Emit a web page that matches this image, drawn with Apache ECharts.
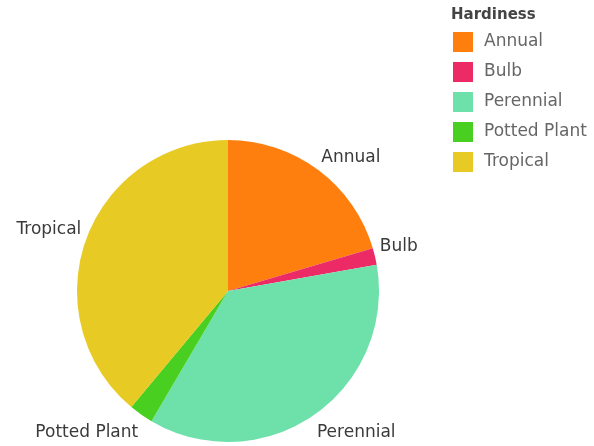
<!DOCTYPE html>
<html>
<head>
<meta charset="utf-8">
<script src="https://cdn.jsdelivr.net/npm/echarts@6/dist/echarts.min.js"></script>
<style>
  html, body { margin: 0; padding: 0; background: #fff; }
  #chart { width: 594px; height: 446px; }
</style>
</head>
<body>
<div id="chart"></div>
<script>
// Share of plants by hardiness type
const categories = ['Annual', 'Bulb', 'Perennial', 'Potted Plant', 'Tropical'];
const values = [20.4, 1.8, 36.2, 2.6, 38.9];
const colors = ['#FF7F0E', '#EC2B66', '#6EE0A9', '#48CF20', '#E8CA24'];
const legendTitle = 'Hardiness';

const FONT = '"DejaVu Sans", Verdana, sans-serif';
const PIE_CENTER = [228, 291];

const chart = echarts.init(document.getElementById('chart'), null, { renderer: 'canvas' });

chart.setOption({
  animation: false,
  backgroundColor: '#ffffff',
  color: colors,
  title: {
    text: legendTitle,
    left: 451,
    top: 8,
    padding: 0,
    textStyle: { fontFamily: FONT, fontSize: 15, fontWeight: 'bold', color: '#444' }
  },
  legend: {
    orient: 'vertical',
    left: 453,
    top: 32,
    padding: 0,
    icon: 'rect',
    itemWidth: 20,
    itemHeight: 20,
    itemGap: 10,
    data: categories,
    textStyle: { fontFamily: FONT, fontSize: 17, color: '#666', padding: [0, 0, 0, 6] }
  },
  series: [{
    type: 'pie',
    center: PIE_CENTER,
    radius: 151,
    startAngle: 90,
    clockwise: true,
    avoidLabelOverlap: false,
    itemStyle: { borderWidth: 0 },
    label: {
      show: true,
      position: 'outside',
      distanceToLabelLine: 0,
      fontFamily: FONT,
      fontSize: 17,
      color: '#3a3a3a'
    },
    labelLine: { show: false, length: 5, length2: 0 },
    // labels above the centre sit on their anchor, labels below hang from it
    labelLayout: function (params) {
      const r = params.labelRect;
      const above = r.y + r.height / 2 < PIE_CENTER[1];
      return { dy: above ? -r.height / 2 : r.height * 0.8 };
    },
    data: categories.map((name, i) => ({ name, value: values[i] }))
  }]
});
</script>
</body>
</html>
